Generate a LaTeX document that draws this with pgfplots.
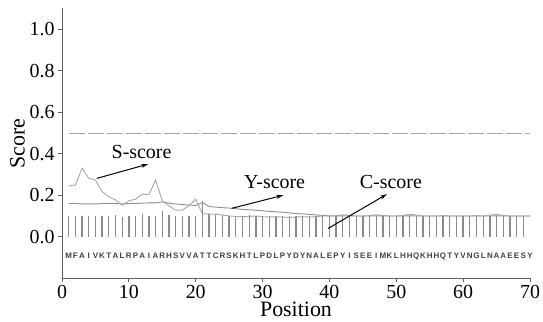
\documentclass[border=0pt]{standalone}
\usepackage{fontspec}
\setmainfont{Liberation Serif}
\newfontfamily\seqfont{Liberation Sans}
\usepackage{pgfplots}
\pgfplotsset{compat=1.18}
\usetikzlibrary{arrows.meta}
\definecolor{sgray}{HTML}{A8A8A8}
\definecolor{ygray}{HTML}{8C8C8C}
\definecolor{cgray}{HTML}{8A8A8A}
\definecolor{axgray}{HTML}{606060}

\pgfplotstableread{
x y
1 0.245
2 0.249
3 0.330
4 0.282
5 0.273
6 0.218
7 0.192
8 0.178
9 0.152
10 0.173
11 0.181
12 0.205
13 0.202
14 0.274
15 0.173
16 0.149
17 0.128
18 0.128
19 0.149
20 0.181
21 0.110
22 0.110
23 0.108
24 0.105
25 0.100
26 0.098
27 0.097
28 0.098
29 0.100
30 0.097
31 0.095
32 0.097
33 0.095
34 0.093
35 0.095
36 0.097
37 0.095
38 0.097
39 0.100
40 0.100
41 0.102
42 0.106
43 0.103
44 0.100
45 0.100
46 0.102
47 0.106
48 0.103
49 0.100
50 0.100
51 0.103
52 0.108
53 0.105
54 0.100
55 0.100
56 0.100
57 0.102
58 0.100
59 0.100
60 0.100
61 0.100
62 0.102
63 0.100
64 0.104
65 0.108
66 0.103
67 0.100
68 0.100
69 0.100
70 0.100
}\sscore

\pgfplotstableread{
x y
1 0.160
2 0.160
3 0.158
4 0.158
5 0.158
6 0.160
7 0.160
8 0.160
9 0.158
10 0.160
11 0.160
12 0.162
13 0.163
14 0.163
15 0.168
16 0.162
17 0.158
18 0.155
19 0.153
20 0.150
21 0.165
22 0.145
23 0.143
24 0.140
25 0.138
26 0.135
27 0.132
28 0.130
29 0.128
30 0.125
31 0.122
32 0.120
33 0.118
34 0.115
35 0.112
36 0.110
37 0.108
38 0.105
39 0.103
40 0.100
41 0.100
42 0.101
43 0.100
44 0.100
45 0.100
46 0.100
47 0.101
48 0.100
49 0.100
50 0.100
51 0.100
52 0.101
53 0.100
54 0.100
55 0.100
56 0.100
57 0.100
58 0.100
59 0.100
60 0.100
61 0.100
62 0.100
63 0.100
64 0.100
65 0.101
66 0.100
67 0.100
68 0.100
69 0.100
70 0.100
}\yscore

\pgfplotstableread{
x y
1 0.100
2 0.100
3 0.100
4 0.100
5 0.100
6 0.100
7 0.100
8 0.105
9 0.095
10 0.100
11 0.100
12 0.108
13 0.100
14 0.100
15 0.125
16 0.105
17 0.100
18 0.100
19 0.100
20 0.100
21 0.170
22 0.110
23 0.110
24 0.105
25 0.100
26 0.100
27 0.100
28 0.105
29 0.100
30 0.100
31 0.100
32 0.100
33 0.100
34 0.100
35 0.100
36 0.100
37 0.100
38 0.100
39 0.100
40 0.100
41 0.100
42 0.100
43 0.100
44 0.100
45 0.100
46 0.100
47 0.100
48 0.100
49 0.100
50 0.100
51 0.100
52 0.100
53 0.100
54 0.100
55 0.100
56 0.100
57 0.100
58 0.100
59 0.100
60 0.100
61 0.100
62 0.100
63 0.100
64 0.100
65 0.100
66 0.100
67 0.100
68 0.100
69 0.100
}\cscore

\pgfplotstableread{
x y l
1 -0.093 M
2 -0.093 F
3 -0.093 A
4 -0.093 I
5 -0.093 V
6 -0.093 K
7 -0.093 T
8 -0.093 A
9 -0.093 L
10 -0.093 R
11 -0.093 P
12 -0.093 A
13 -0.093 I
14 -0.093 A
15 -0.093 R
16 -0.093 H
17 -0.093 S
18 -0.093 V
19 -0.093 V
20 -0.093 A
21 -0.093 T
22 -0.093 T
23 -0.093 C
24 -0.093 R
25 -0.093 S
26 -0.093 K
27 -0.093 H
28 -0.093 T
29 -0.093 L
30 -0.093 P
31 -0.093 D
32 -0.093 L
33 -0.093 P
34 -0.093 Y
35 -0.093 D
36 -0.093 Y
37 -0.093 N
38 -0.093 A
39 -0.093 L
40 -0.093 E
41 -0.093 P
42 -0.093 Y
43 -0.093 I
44 -0.093 S
45 -0.093 E
46 -0.093 E
47 -0.093 I
48 -0.093 M
49 -0.093 K
50 -0.093 L
51 -0.093 H
52 -0.093 H
53 -0.093 Q
54 -0.093 K
55 -0.093 H
56 -0.093 H
57 -0.093 Q
58 -0.093 T
59 -0.093 Y
60 -0.093 V
61 -0.093 N
62 -0.093 G
63 -0.093 L
64 -0.093 N
65 -0.093 A
66 -0.093 A
67 -0.093 E
68 -0.093 E
69 -0.093 S
70 -0.093 Y
}\seq

\begin{document}
\begin{tikzpicture}
\begin{axis}[
  scale only axis, width=468bp, height=270bp,
  xmin=0, xmax=70, ymin=-0.2, ymax=1.1,
  axis x line*=bottom, axis y line*=left,
  xtick={0,10,...,70}, ytick={0,0.2,0.4,0.6,0.8,1.0},
  yticklabel style={/pgf/number format/.cd, fixed, fixed zerofill, precision=1},
  /pgf/number format/assume math mode=true,
  tick label style={font=\fontsize{20}{22}\selectfont, text=black},
  label style={font=\fontsize{22}{24}\selectfont},
  xlabel={Position}, ylabel={Score},
  xlabel style={yshift=3bp},
  ylabel style={yshift=-2bp},
  xticklabel style={yshift=1bp},
  axis line style={axgray, line width=0.9pt},
  tick style={axgray, line width=0.8pt},
  major tick length=4bp,
  tick align=outside,
  clip=false,
]
\addplot[sgray, line width=0.6bp, dash pattern=on 16bp off 3bp] coordinates {(1,0.5) (70,0.5)};
\addplot[ycomb, cgray, line width=1.3bp, mark=none] table[x=x, y=y] {\cscore};
\addplot[ygray, line width=0.9bp, mark=none] table[x=x, y=y] {\yscore};
\addplot[sgray, line width=0.9bp, mark=none] table[x=x, y=y] {\sscore};
\addplot[draw=none, mark=none, nodes near coords, point meta=explicit symbolic,
  nodes near coords style={anchor=center, inner sep=0pt, text=black!75,
    font=\seqfont\bfseries\fontsize{8}{9}\selectfont}]
  table[x=x, y=y, meta=l] {\seq};
\node[font=\fontsize{20}{22}\selectfont] at (axis cs:11.9,0.407) {S-score};
\node[font=\fontsize{20}{22}\selectfont] at (axis cs:31.8,0.263) {Y-score};
\node[font=\fontsize{20}{22}\selectfont] at (axis cs:49.2,0.263) {C-score};
\draw[-{Stealth[length=7bp,width=4bp]}, line width=1bp] (axis cs:5.2,0.281) -- (axis cs:12.9,0.35);
\draw[-{Stealth[length=7bp,width=4bp]}, line width=1bp] (axis cs:25.4,0.137) -- (axis cs:33.1,0.2);
\draw[-{Stealth[length=7bp,width=4bp]}, line width=1bp] (axis cs:39.8,0.04) -- (axis cs:48.6,0.205);
\end{axis}
\pgfresetboundingbox
\path ([shift={(-62bp,-43.3bp)}]current axis.south west) rectangle ([shift={(13bp,8.3bp)}]current axis.north east);
\end{tikzpicture}
\end{document}
